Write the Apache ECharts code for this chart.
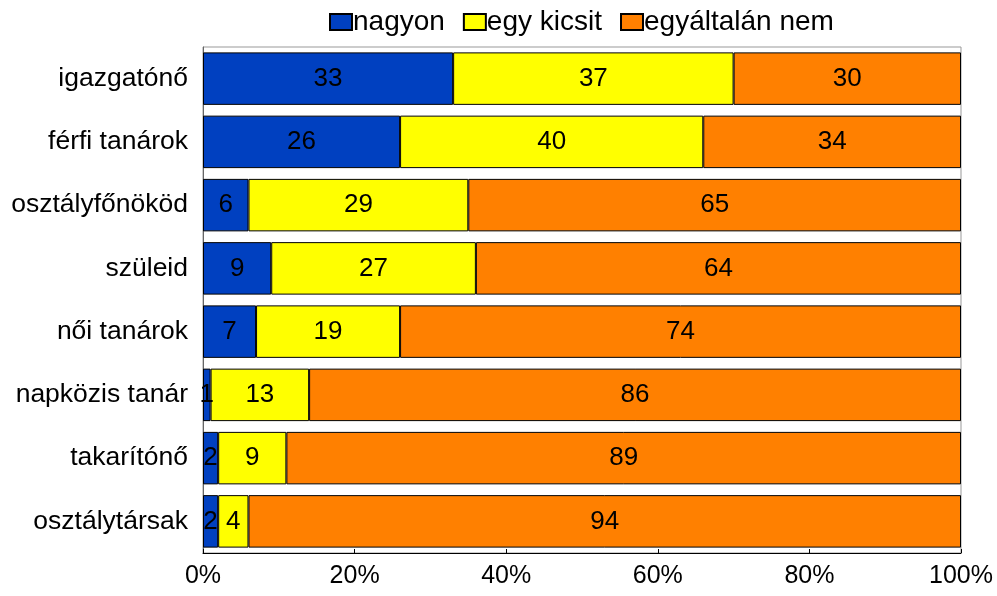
<!DOCTYPE html>
<html lang="hu">
<head>
<meta charset="UTF-8">
<title>chart</title>
<script src="https://cdn.jsdelivr.net/npm/echarts@6/dist/echarts.min.js"></script>
<style>
    body { margin: 0; background: #fff; }
    #main { width: 997px; height: 596px; }
</style>
</head>
<body>
<div id="main"></div>
<script>
var categories = ['igazgatónő', 'férfi tanárok', 'osztályfőnököd', 'szüleid', 'női tanárok', 'napközis tanár', 'takarítónő', 'osztálytársak'];
var nagyon = [33, 26, 6, 9, 7, 1, 2, 2];
var egyKicsit = [37, 40, 29, 27, 19, 13, 9, 4];
var egyaltalanNem = [30, 34, 65, 64, 74, 86, 89, 94];
var seriesNames = ['nagyon', 'egy kicsit', 'egyáltalán nem'];
var seriesColors = ['#0040C0', '#FFFF00', '#FF8000'];

var chart = echarts.init(document.getElementById('main'));
var allData = [nagyon, egyKicsit, egyaltalanNem];

var series = allData.map(function (d, i) {
    return {
        name: seriesNames[i],
        type: 'bar',
        stack: 'total',
        data: d,
        barCategoryGap: '17%',
        itemStyle: { color: seriesColors[i], borderColor: '#000', borderWidth: 1 },
        label: {
            show: true,
            position: 'inside',
            color: '#000',
            fontSize: 26,
            fontFamily: 'Liberation Sans'
        }
    };
});

chart.setOption({
    animation: false,
    textStyle: { fontFamily: 'Liberation Sans' },
    legend: {
        top: 3,
        left: 324,
        itemWidth: 22,
        itemHeight: 16,
        itemGap: 18,
        icon: 'rect',
        textStyle: { fontSize: 28, color: '#000', padding: [0, 0, 0, -4] }
    },
    grid: {
        left: 203, right: 36, top: 47, bottom: 43,
        show: true, borderColor: '#999', borderWidth: 1
    },
    xAxis: {
        type: 'value',
        min: 0, max: 100, interval: 20,
        axisLine: { show: true, lineStyle: { color: '#000' } },
        axisTick: { show: true, inside: true, length: 4, lineStyle: { color: '#000' } },
        splitLine: { show: false },
        axisLabel: { formatter: '{value}%', fontSize: 25, color: '#000', margin: 11 }
    },
    yAxis: {
        type: 'category',
        inverse: true,
        data: categories,
        axisLine: { show: true, lineStyle: { color: '#666' } },
        axisTick: { show: false },
        axisLabel: { fontSize: 26.5, color: '#000', margin: 15 }
    },
    series: series
});
</script>
</body>
</html>
